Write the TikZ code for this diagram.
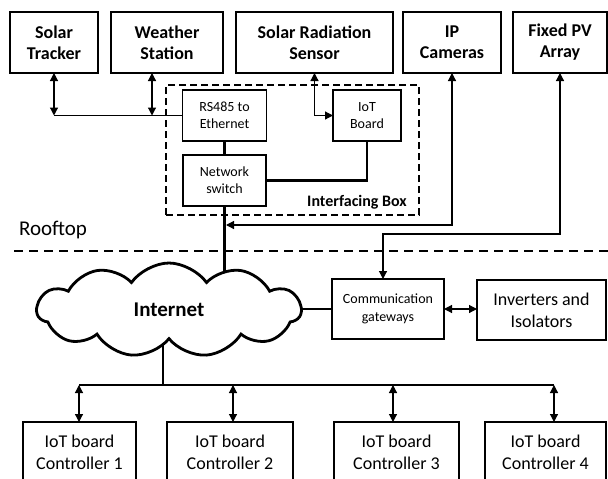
\documentclass[tikz,border=0pt]{standalone}
\usepackage{fontspec}
\setmainfont{Carlito}
\usetikzlibrary{arrows.meta,shapes.symbols,backgrounds}
\begin{document}
\begin{tikzpicture}[x=1pt,y=-1pt,
  box/.style={draw, line width=1.2pt, align=center, inner sep=0pt, outer sep=0pt, fill=white},
  topbox/.style={box, font=\fontsize{18}{21}\selectfont\bfseries, minimum height=61pt},
  smallbox/.style={box, font=\fontsize{14}{17}\selectfont, minimum height=51pt},
  bigbox/.style={box, font=\fontsize{18}{22}\selectfont, minimum height=60pt},
  wire/.style={line width=1.2pt},
  buswire/.style={line width=2.4pt},
  arr/.style={-{Triangle[length=8pt,width=8pt]}},
  darr/.style={{Triangle[length=8pt,width=8pt]}-{Triangle[length=8pt,width=8pt]}}
]
\useasboundingbox (0,0) rectangle (608,479);
\clip (0,0) rectangle (608,479);

% top devices
\node[topbox, minimum width=88pt]  (tracker) at (54,42.5)    {Solar\\Tracker};
\node[topbox, minimum width=112pt] (weather) at (167,42.5)   {Weather\\Station};
\node[topbox, minimum width=157pt] (sensor)  at (314.5,42.5) {Solar Radiation\\Sensor};
\node[topbox, minimum width=98pt]  (cam)     at (452,42.5)   {IP\\Cameras};
\node[topbox, minimum width=94pt]  (pv)      at (560,42.5)   {Fixed PV\\Array};

% interfacing box
\node[draw, line width=1.2pt, dash pattern=on 7pt off 4pt, minimum width=253pt, minimum height=130pt, inner sep=0pt] (ibox) at (292.5,150) {};
\node[font=\fontsize{16}{19}\selectfont\bfseries, inner sep=0pt] (iblabel) at (357,202) {Interfacing Box};

\node[smallbox, minimum width=84pt] (rs)  at (224.5,115.5) {RS485 to\\Ethernet};
\node[smallbox, minimum width=83pt] (sw)  at (224.5,180.5) {Network\\switch};
\node[smallbox, minimum width=68pt] (iot) at (367,115.5)   {IoT\\Board};

% rooftop
\node[font=\fontsize{21}{25}\selectfont, inner sep=0pt] (roof) at (53,230) {Rooftop};
\coordinate (dl) at (14,251);
\coordinate (dr) at (608,251);
\draw[line width=1.2pt, dash pattern=on 9pt off 6pt] (dl) -- (dr);

% cloud and lower boxes
\node[cloud, cloud puffs=11, cloud puff arc=110, cloud ignores aspect, minimum width=264pt, minimum height=94pt, draw, line width=2.8pt, fill=white, font=\fontsize{21}{25}\selectfont\bfseries, inner sep=0pt] (net) at (169,310) {Internet};

\node[box, font=\fontsize{14}{18}\selectfont, minimum width=112pt, minimum height=60pt] (comm) at (388,309) {Communication\\gateways};
\node[bigbox, minimum width=129pt] (inv) at (541.5,310) {Inverters and\\Isolators};

\node[bigbox, minimum width=113pt] (c1) at (79.5,452)  {IoT board\\Controller 1};
\node[bigbox, minimum width=126pt] (c2) at (230,452)   {IoT board\\Controller 2};
\node[bigbox, minimum width=125pt] (c3) at (396.5,452) {IoT board\\Controller 3};
\node[bigbox, minimum width=121pt] (c4) at (545.5,452) {IoT board\\Controller 4};

% connectors in the top part
\draw[wire, darr] (tracker.south) -- (tracker.south |- rs.west);
\draw[wire] (tracker.south |- rs.west) -- (rs.west);
\draw[wire, darr] ([xshift=-15pt]weather.south) -- ([xshift=-15pt]weather.south |- rs.west);
\draw[wire, darr] (sensor.south) |- (iot.west);
\draw[buswire] (rs.south) -- (sw.north);
\draw[buswire] (sw.east) -| (iot.south);

\coordinate (camjoin) at (226,225);
\draw[wire, darr] (cam.south) |- (camjoin);

\coordinate (pvturn) at (383,234);
\draw[wire, darr] (pv.south) |- (pvturn) -- (pvturn |- comm.north);

\draw[wire, darr] (comm.east) -- (comm.east -| inv.west);

% bus
\coordinate (drop) at (163,385);
\coordinate (b1) at (79,385);
\coordinate (b2) at (233,385);
\coordinate (b3) at (393,385);
\coordinate (b4) at (554,385);
\draw[buswire] (b1) -- (b4);
\draw[wire, darr] (b1) -- (b1 |- c1.north);
\draw[wire, darr] (b2) -- (b2 |- c2.north);
\draw[wire, darr] (b3) -- (b3 |- c3.north);
\draw[wire, darr] (b4) -- (b4 |- c4.north);

\begin{scope}[on background layer]
  \draw[buswire] (sw.south) -- (sw.south |- net.center);
  \draw[buswire] (comm.west) -- (comm.west -| net.center);
  \draw[buswire] (drop |- net.center) -- ([yshift=1.2pt]drop);
\end{scope}
\end{tikzpicture}
\end{document}
